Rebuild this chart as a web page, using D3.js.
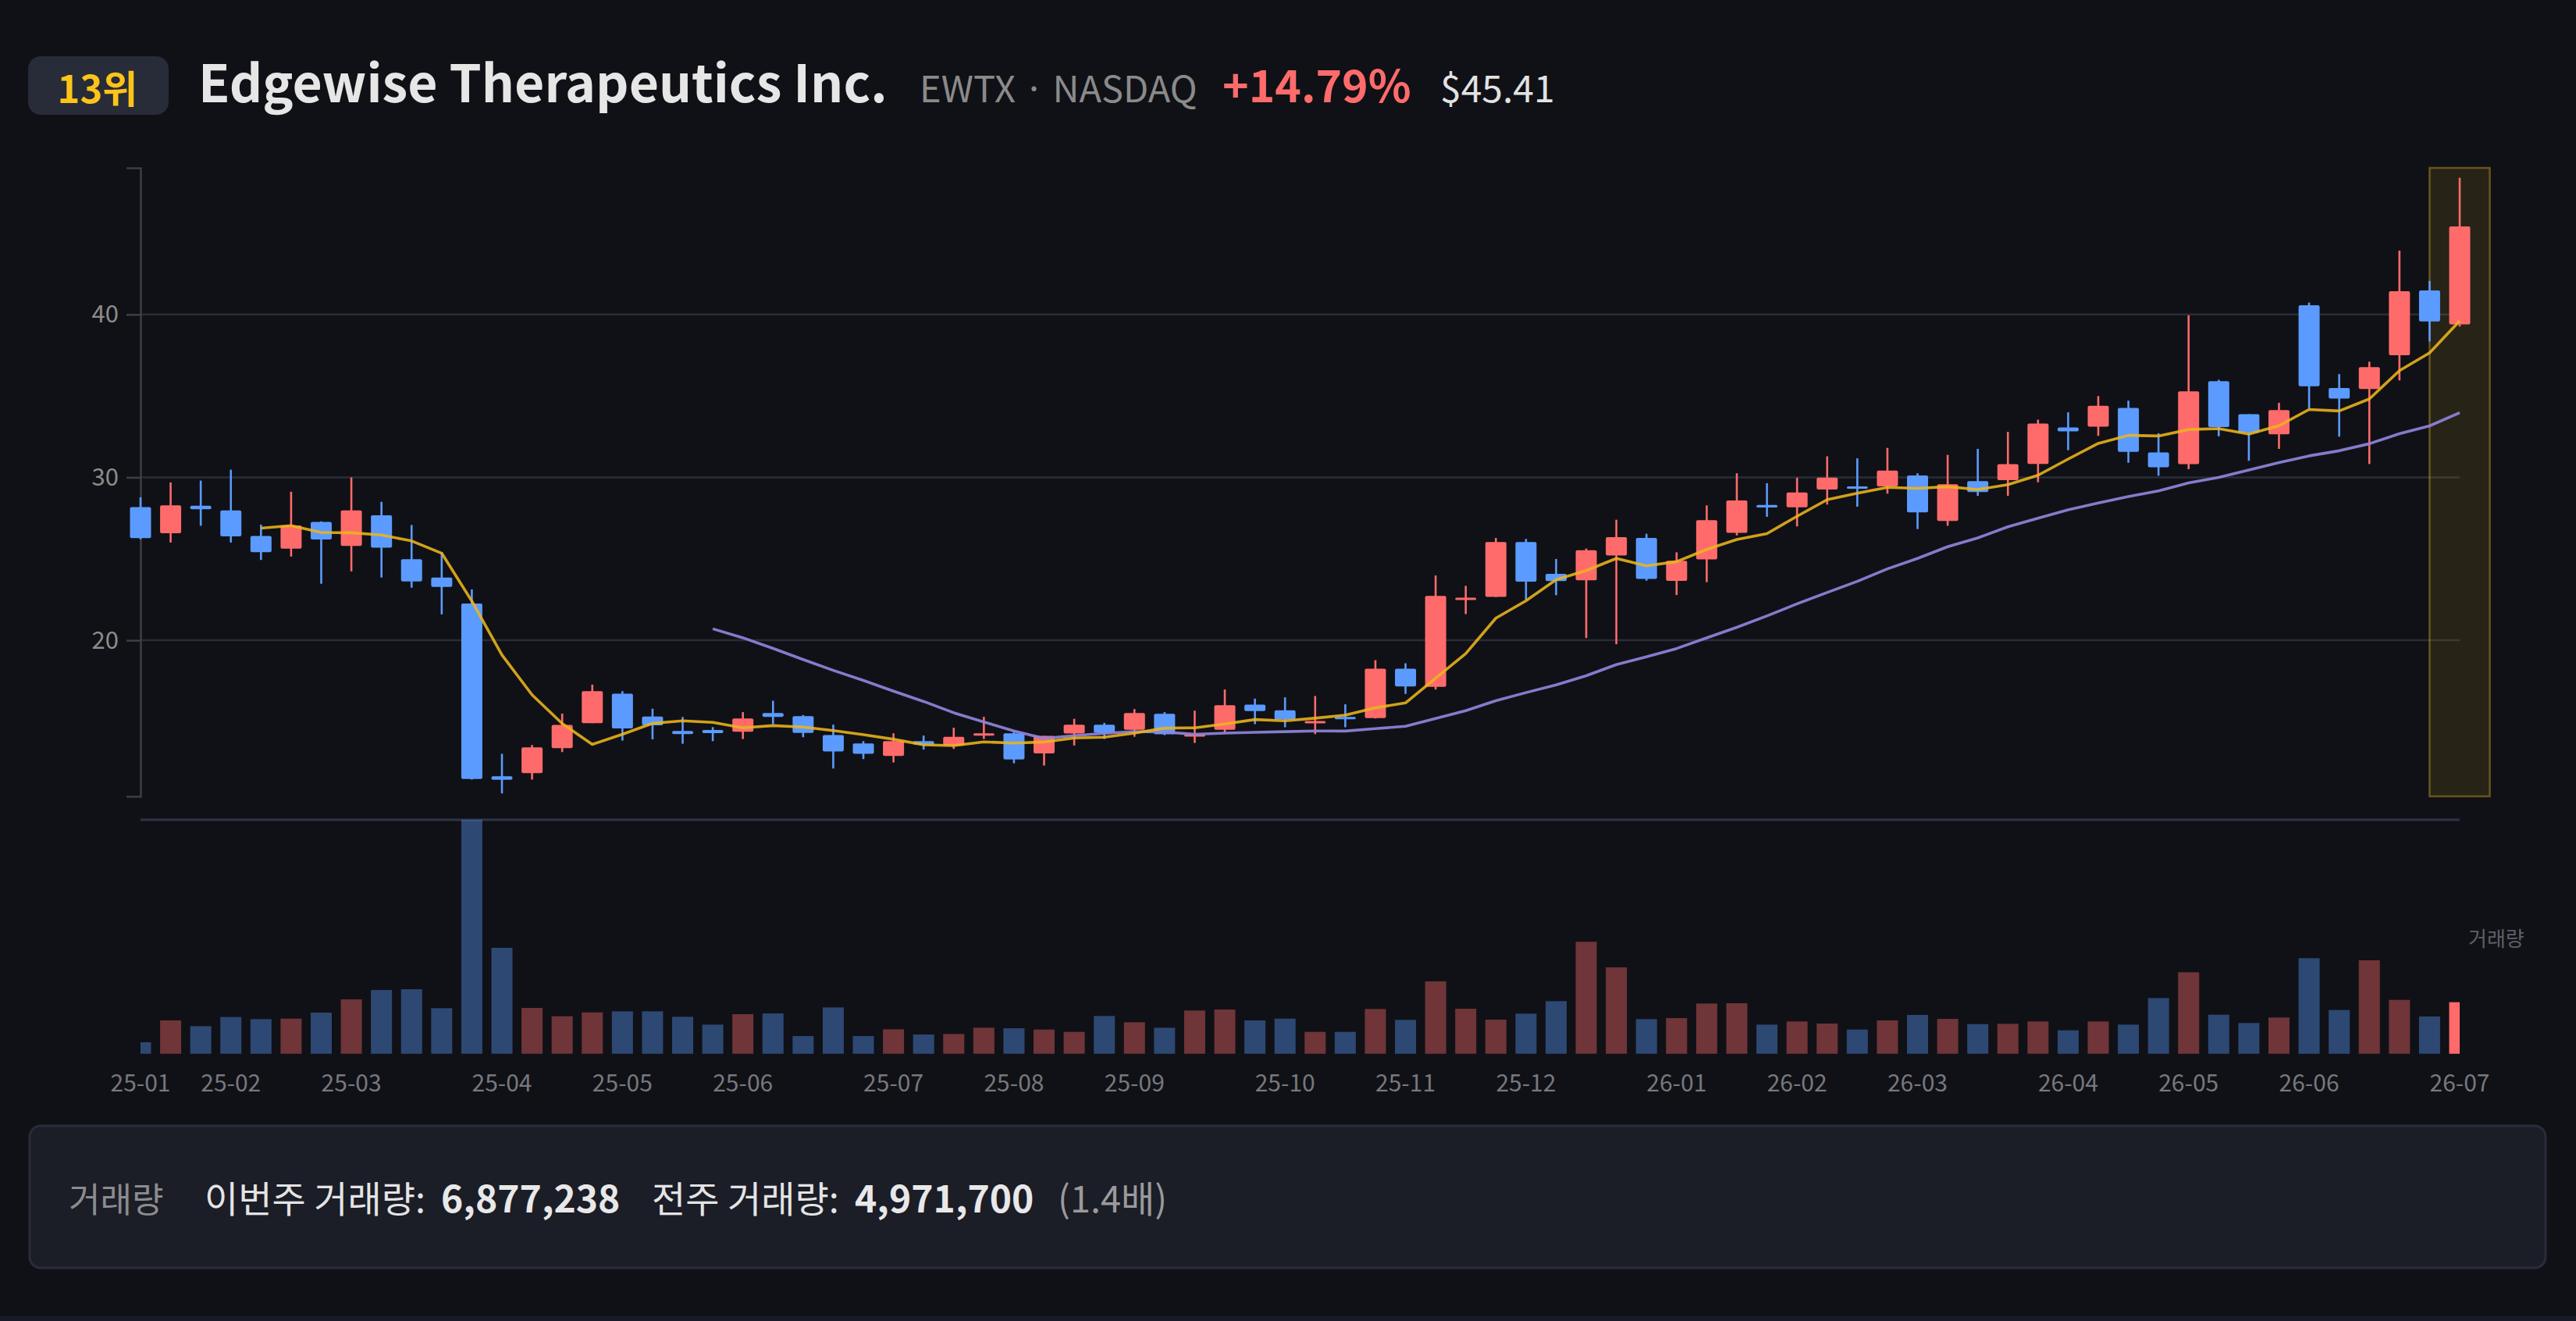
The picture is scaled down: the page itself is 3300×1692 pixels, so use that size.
<!DOCTYPE html>
<html>
<head>
<meta charset="utf-8">
<script src="https://cdn.jsdelivr.net/npm/d3@7/dist/d3.min.js"></script>
<style>
  html, body { margin: 0; padding: 0; background: #101116; }
  svg { display: block; }
</style>
</head>
<body>
<svg id="chart" width="3300" height="1692"></svg>
<script>
// ---------------- DATA ----------------
const firstWeek = "2025-01-13";            // weekly candles, Monday start
const opens  = [28.18,26.57,28.26,27.97,26.40,25.63,27.27,25.79,27.67,24.98,
                23.85,22.26,11.66,11.84,13.38,14.91,16.72,15.32,14.43,14.49,
                14.39,15.54,15.35,14.18,13.67,12.90,13.81,13.54,14.15,14.29,
                13.06,14.28,14.82,14.50,15.49,14.13,14.50,16.05,15.70,14.93,
                15.30,15.23,18.26,17.14,22.49,22.67,26.03,24.08,23.68,25.21,
                26.28,23.65,24.97,26.59,28.31,28.17,29.26,29.45,29.45,30.12,
                27.32,29.77,29.83,30.82,33.06,33.11,34.26,31.53,30.81,35.91,
                33.88,32.65,40.57,35.48,35.43,37.50,41.47,39.39];
const highs  = [28.78,29.69,29.80,30.47,27.10,29.12,27.30,30.00,28.50,27.08,
                25.41,23.12,13.03,13.57,15.50,17.28,16.88,15.80,15.29,14.67,
                15.59,16.29,15.41,14.82,13.81,14.29,14.15,14.63,15.30,14.42,
                14.13,15.18,14.93,15.78,15.59,15.68,16.98,16.42,16.50,16.58,
                16.07,18.78,18.59,23.98,23.34,26.28,26.22,24.99,25.63,27.40,
                26.54,25.40,28.28,30.25,29.64,29.98,31.29,31.17,31.81,30.25,
                31.38,31.75,32.79,33.54,33.99,34.99,34.71,32.71,39.95,35.99,
                33.88,34.58,40.73,36.34,37.10,43.92,42.06,48.39];
const lows   = [26.20,26.00,27.03,26.00,24.93,25.14,23.47,24.23,23.85,23.23,
                21.59,11.45,10.60,11.45,13.14,14.91,13.84,13.92,13.65,13.81,
                13.94,14.85,14.05,12.13,12.71,12.50,13.29,13.33,13.94,12.45,
                12.31,13.54,13.94,14.08,14.18,13.70,14.34,14.85,14.66,14.24,
                14.66,15.20,16.71,16.98,21.61,22.65,22.49,22.77,20.14,19.76,
                23.66,22.78,23.57,26.44,27.58,26.99,28.33,28.20,29.00,26.83,
                27.03,28.87,28.87,29.70,31.67,32.55,30.90,30.10,30.50,32.52,
                31.02,31.75,34.23,32.50,30.82,35.95,38.35,39.26];
const closes = [26.27,28.29,28.05,26.38,25.41,27.05,26.19,27.97,25.68,23.61,
                23.28,11.49,11.44,13.43,14.81,16.88,14.59,14.78,14.24,14.30,
                15.20,15.30,14.31,13.17,13.03,13.81,13.60,14.08,14.29,12.69,
                14.13,14.82,14.32,15.54,14.23,14.23,16.02,15.66,15.14,15.04,
                15.18,18.25,17.17,22.72,22.62,26.03,23.60,23.63,25.53,26.33,
                23.77,24.88,27.37,28.58,28.15,29.08,29.98,29.32,30.42,27.85,
                29.58,29.10,30.81,33.30,32.82,34.40,31.57,30.62,35.28,33.09,
                32.74,34.13,35.59,34.84,36.77,41.43,39.57,45.41];
const volumes = [1530000,4450000,3680000,4900000,4620000,4690000,5490000,7260000,8510000,8610000,
                 6080000,31220000,14140000,6110000,5000000,5520000,5660000,5660000,4930000,3890000,
                 5280000,5380000,2360000,6180000,2360000,3260000,2570000,2640000,3470000,3400000,
                 3230000,2920000,5040000,4200000,3470000,5770000,5900000,4450000,4690000,2920000,
                 2920000,5970000,4520000,9660000,6010000,4550000,5350000,7020000,14940000,11530000,
                 4620000,4760000,6700000,6740000,3890000,4310000,4030000,3230000,4450000,5180000,
                 4650000,3960000,3990000,4310000,3130000,4310000,3890000,7430000,10870000,5210000,
                 4100000,4830000,12750000,5840000,12470000,7190000,4971700,6877238];
const priceTicks = [20, 30, 40];
const rank = "13위";
const companyName = "Edgewise Therapeutics Inc.";
const tickerInfo = "EWTX · NASDAQ";
const changeText = "+14.79%";
const priceText = "$45.41";
const volLabel = "거래량";
const thisWeekLabel = "이번주 거래량:";
const prevWeekLabel = "전주 거래량:";

// ---------------- SETUP ----------------
const n = closes.length;
const start = new Date(firstWeek + "T00:00:00");
const weeks = d3.timeMonday.range(start, d3.timeMonday.offset(start, n));
const fmtMonth = d3.timeFormat("%y-%m");

const UP = "#ff6b6b", DOWN = "#5b9bff";
const FONT = "'Noto Sans CJK KR', 'Noto Sans', sans-serif";

const svg = d3.select("#chart").style("font-family", FONT);

const plotL = 180, plotR = 3151;
const x = d3.scalePoint().domain(d3.range(n)).range([plotL, plotR]);
const step = x.step();
const bodyW = 27;

const y = d3.scaleLinear().domain([10.42, 49.0]).range([1020, 215]);
const yv = d3.scaleLinear().domain([0, d3.max(volumes)]).range([1349.7, 1050]);

// ---------------- HEADER ----------------
svg.append("rect").attr("x", 36).attr("y", 72).attr("width", 180).attr("height", 75)
   .attr("rx", 16).attr("fill", "#282b38");
svg.append("text").attr("x", 125).attr("y", 132).attr("text-anchor", "middle")
   .attr("font-size", 49).attr("font-weight", 700).attr("fill", "#fcc419").text(rank);

svg.append("text").attr("x", 254).attr("y", 131).attr("font-size", 66)
   .attr("font-weight", 700).attr("fill", "#e6e6e6").text(companyName);
svg.append("text").attr("x", 1178).attr("y", 131).attr("font-size", 47)
   .attr("fill", "#8a8a8a").text(tickerInfo);
svg.append("text").attr("x", 1566).attr("y", 131).attr("font-size", 57)
   .attr("font-weight", 700).attr("fill", UP).text(changeText);
svg.append("text").attr("x", 1845).attr("y", 131).attr("font-size", 48)
   .attr("fill", "#e2e2e2").text(priceText);

// ---------------- PRICE PANEL ----------------
svg.append("g").selectAll("line").data(priceTicks).join("line")
   .attr("x1", plotL).attr("x2", plotR)
   .attr("y1", d => y(d)).attr("y2", d => y(d))
   .attr("stroke", "#2a2c37").attr("stroke-width", 2.5);

// highlight of latest week
svg.append("rect")
   .attr("x", x(n - 1) - step).attr("y", y.range()[1])
   .attr("width", step * 2).attr("height", y.range()[0] - y.range()[1])
   .attr("fill", "rgba(232,185,35,0.11)")
   .attr("stroke", "rgba(232,185,35,0.38)").attr("stroke-width", 2.5);

// y axis
const yAxis = svg.append("g").attr("transform", `translate(${plotL},0)`)
   .call(d3.axisLeft(y).tickValues(priceTicks).tickSize(18).tickPadding(10));
yAxis.selectAll("path, line").attr("stroke", "#3d3e46").attr("stroke-width", 2.5);
yAxis.selectAll("text").attr("fill", "#8c8c8c").attr("font-size", 31)
   .attr("font-family", FONT);

// candles
const candles = svg.append("g").selectAll("g").data(d3.range(n)).join("g");
candles.append("line")
   .attr("x1", i => x(i)).attr("x2", i => x(i))
   .attr("y1", i => y(highs[i])).attr("y2", i => y(lows[i]))
   .attr("stroke", i => closes[i] >= opens[i] ? UP : DOWN)
   .attr("stroke-width", 2.6);
candles.append("rect")
   .attr("x", i => x(i) - bodyW / 2)
   .attr("width", bodyW)
   .attr("y", i => y(Math.max(opens[i], closes[i])))
   .attr("height", i => Math.max(3, Math.abs(y(opens[i]) - y(closes[i]))))
   .attr("rx", 2)
   .attr("fill", i => closes[i] >= opens[i] ? UP : DOWN);

// moving averages
function movingAvg(len) {
  return d3.range(n).map(i => i < len - 1 ? null : d3.mean(closes.slice(i - len + 1, i + 1)));
}
const ma5 = movingAvg(5), ma20 = movingAvg(20);
const line = d3.line().defined(d => d[1] != null).x(d => x(d[0])).y(d => y(d[1]));
svg.append("path").datum(ma20.map((v, i) => [i, v]))
   .attr("d", line).attr("fill", "none")
   .attr("stroke", "#8e84dc").attr("stroke-opacity", 0.92).attr("stroke-width", 3.6)
   .attr("stroke-linejoin", "round");
svg.append("path").datum(ma5.map((v, i) => [i, v]))
   .attr("d", line).attr("fill", "none")
   .attr("stroke", "#ecb51c").attr("stroke-opacity", 0.88).attr("stroke-width", 3.6)
   .attr("stroke-linejoin", "round");

// ---------------- VOLUME PANEL ----------------
svg.append("defs").append("clipPath").attr("id", "volclip")
   .append("rect").attr("x", plotL).attr("y", 1000).attr("width", x(n - 1) - plotL).attr("height", 400);

svg.append("line").attr("x1", plotL).attr("x2", x(n - 1))
   .attr("y1", 1050).attr("y2", 1050)
   .attr("stroke", "#30344a").attr("stroke-width", 3);

svg.append("g").attr("clip-path", "url(#volclip)")
   .selectAll("rect").data(d3.range(n)).join("rect")
   .attr("x", i => x(i) - bodyW / 2).attr("width", bodyW)
   .attr("y", i => yv(volumes[i]))
   .attr("height", i => yv(0) - yv(volumes[i]))
   .attr("fill", i => closes[i] >= opens[i] ? UP : DOWN)
   .attr("fill-opacity", i => i === n - 1 ? 1 : 0.4);

svg.append("text").attr("x", 3162).attr("y", 1212).attr("font-size", 26)
   .attr("fill", "#5f6068").text(volLabel);

// x labels: first week of each month
const monthIdx = d3.range(n).filter(i => i === 0 || weeks[i].getMonth() !== weeks[i - 1].getMonth());
svg.append("g").selectAll("text").data(monthIdx).join("text")
   .attr("x", i => x(i)).attr("y", 1398).attr("text-anchor", "middle")
   .attr("font-size", 30).attr("fill", "#77787e")
   .text(i => fmtMonth(weeks[i]));

// ---------------- FOOTER ----------------
svg.append("rect").attr("x", 38).attr("y", 1442).attr("width", 3223).attr("height", 182)
   .attr("rx", 14).attr("fill", "#1b1d27").attr("stroke", "#292c3a").attr("stroke-width", 3);

const thisVol = volumes[n - 1], prevVol = volumes[n - 2];
const fmtInt = d3.format(",");
const fy = 1553;
svg.append("text").attr("x", 88).attr("y", fy).attr("font-size", 44)
   .attr("fill", "#8c8c8c").text(volLabel);
svg.append("text").attr("x", 262).attr("y", fy).attr("font-size", 47)
   .attr("fill", "#e4e4e4").text(thisWeekLabel);
svg.append("text").attr("x", 565).attr("y", fy).attr("font-size", 48).attr("font-weight", 700)
   .attr("fill", "#e8e8e8").text(fmtInt(thisVol));
svg.append("text").attr("x", 835).attr("y", fy).attr("font-size", 47)
   .attr("fill", "#e4e4e4").text(prevWeekLabel);
svg.append("text").attr("x", 1095).attr("y", fy).attr("font-size", 48).attr("font-weight", 700)
   .attr("fill", "#e8e8e8").text(fmtInt(prevVol));
svg.append("text").attr("x", 1355).attr("y", fy).attr("font-size", 47)
   .attr("fill", "#9a9a9a").text("(" + d3.format(".1f")(thisVol / prevVol) + "배)");

// bottom strip
svg.append("rect").attr("x", 0).attr("y", 1686).attr("width", 3300).attr("height", 6).attr("fill", "#181b27");
</script>
</body>
</html>
